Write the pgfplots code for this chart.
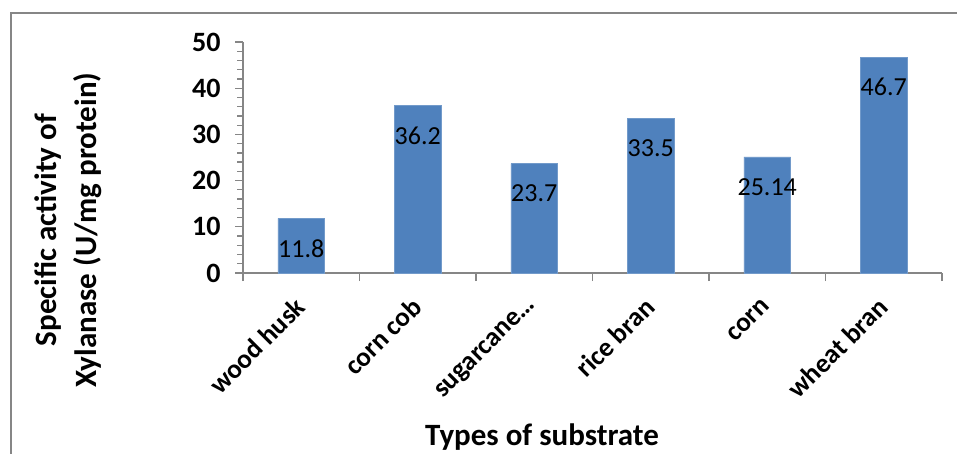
\documentclass[border=0pt]{standalone}
\usepackage{pgfplots}
\pgfplotsset{compat=1.18}
\usepackage{fontspec}
\setmainfont{Carlito}
\definecolor{barblue}{HTML}{4F81BD}
\definecolor{axgray}{HTML}{868686}
\begin{document}
\begin{tikzpicture}[x=1pt,y=1pt]
\begin{axis}[
  at={(243pt,-273pt)}, anchor=south west,
  scale only axis, width=699pt, height=231pt,
  xmin=-0.5, xmax=5.5, ymin=0, ymax=50,
  axis x line*=bottom, axis y line*=left,
  axis line style={axgray, line width=1.3pt},
  tick align=outside,
  xtick={-0.5,0.5,...,5.5}, xticklabels={},
  extra x ticks={0,1,2,3,4,5},
  extra x tick labels={wood husk, corn cob, sugarcane\ldots, rice bran, corn, wheat bran},
  extra x tick style={major tick length=0pt,
    tick label style={rotate=45, anchor=east, font=\fontsize{27}{30}\selectfont\bfseries, xshift=-18pt, yshift=-20pt}},
  ytick={0,10,...,50},
  minor y tick num=4,
  major tick length=8pt, minor tick length=6pt,
  tick style={axgray, line width=1.3pt},
  /pgf/number format/assume math mode=true,
  yticklabel style={font=\fontsize{28}{32}\selectfont\bfseries, xshift=-11pt},
  ybar, bar width=0.4,
  nodes near coords={\pgfplotspointmeta},
  point meta=explicit symbolic,
  every node near coord/.append style={anchor=center, yshift=-30pt, font=\fontsize{26}{30}\selectfont, text=black},
  clip=false,
]
\addplot[fill=barblue, draw=barblue!80!white, line width=0.6pt]
  coordinates {(0,11.8)[11.8] (1,36.2)[36.2] (2,23.7)[23.7] (3,33.5)[33.5] (4,25.14)[25.14] (5,46.7)[46.7]};
\end{axis}
\node[rotate=90, align=center, font=\fontsize{31}{40}\selectfont\bfseries] at (68pt,-230pt)
  {Specific activity of\\Xylanase (U/mg protein)};
\node[font=\fontsize{31}{34}\selectfont\bfseries] at (542pt,-437pt) {Types of substrate};
\draw[axgray, line width=2pt] (11pt,-460pt) -- (11pt,-13pt) -- (960pt,-13pt);
\pgfresetboundingbox
\path[use as bounding box] (0pt,0pt) rectangle (957pt,-453pt);
\end{tikzpicture}
\end{document}
